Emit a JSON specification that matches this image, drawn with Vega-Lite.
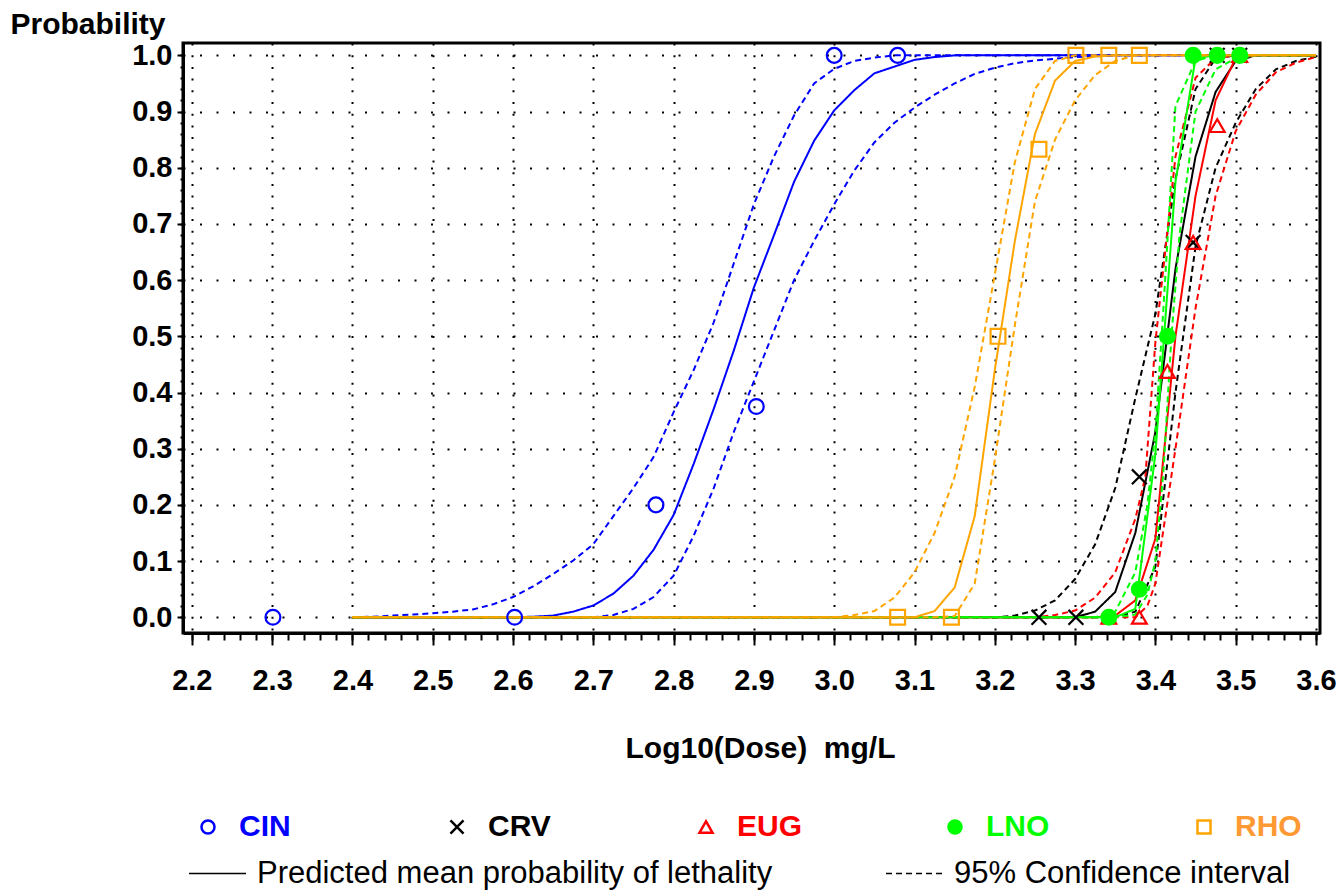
{
  "$schema": "https://vega.github.io/schema/vega-lite/v6.json",
  "width": 1137,
  "height": 590,
  "autosize": "none",
  "padding": {"left": 183, "top": 43, "right": 21, "bottom": 260},
  "background": "white",
  "config": {
    "font": "Liberation Sans",
    "view": {"stroke": "black", "strokeWidth": 3},
    "axis": {"labelColor": "black", "titleColor": "black", "tickColor": "black", "domainColor": "black", "gridColor": "black", "gridOpacity": 1}
  },
  "datasets": {
    "curves": [
      {"s":"CIN","c":"hi","k":"ci","x":2.4,"y":0},{"s":"CIN","c":"hi","k":"ci","x":2.425,"y":0.001},{"s":"CIN","c":"hi","k":"ci","x":2.45,"y":0.003},{"s":"CIN","c":"hi","k":"ci","x":2.475,"y":0.005},{"s":"CIN","c":"hi","k":"ci","x":2.5,"y":0.007},{"s":"CIN","c":"hi","k":"ci","x":2.525,"y":0.01},{"s":"CIN","c":"hi","k":"ci","x":2.55,"y":0.014},{"s":"CIN","c":"hi","k":"ci","x":2.575,"y":0.023},{"s":"CIN","c":"hi","k":"ci","x":2.6,"y":0.036},{"s":"CIN","c":"hi","k":"ci","x":2.625,"y":0.055},{"s":"CIN","c":"hi","k":"ci","x":2.65,"y":0.077},{"s":"CIN","c":"hi","k":"ci","x":2.675,"y":0.101},{"s":"CIN","c":"hi","k":"ci","x":2.7,"y":0.13},{"s":"CIN","c":"hi","k":"ci","x":2.725,"y":0.18},{"s":"CIN","c":"hi","k":"ci","x":2.75,"y":0.23},{"s":"CIN","c":"hi","k":"ci","x":2.775,"y":0.285},{"s":"CIN","c":"hi","k":"ci","x":2.8,"y":0.365},{"s":"CIN","c":"hi","k":"ci","x":2.825,"y":0.44},{"s":"CIN","c":"hi","k":"ci","x":2.85,"y":0.525},{"s":"CIN","c":"hi","k":"ci","x":2.875,"y":0.63},{"s":"CIN","c":"hi","k":"ci","x":2.9,"y":0.735},{"s":"CIN","c":"hi","k":"ci","x":2.925,"y":0.82},{"s":"CIN","c":"hi","k":"ci","x":2.95,"y":0.893},{"s":"CIN","c":"hi","k":"ci","x":2.975,"y":0.95},{"s":"CIN","c":"hi","k":"ci","x":3.0,"y":0.976},{"s":"CIN","c":"hi","k":"ci","x":3.025,"y":0.99},{"s":"CIN","c":"hi","k":"ci","x":3.05,"y":0.996},{"s":"CIN","c":"hi","k":"ci","x":3.075,"y":1},{"s":"CIN","c":"hi","k":"ci","x":3.6,"y":1},
      {"s":"CIN","c":"lo","k":"ci","x":2.4,"y":0},{"s":"CIN","c":"lo","k":"ci","x":2.7,"y":0},{"s":"CIN","c":"lo","k":"ci","x":2.725,"y":0.004},{"s":"CIN","c":"lo","k":"ci","x":2.75,"y":0.015},{"s":"CIN","c":"lo","k":"ci","x":2.775,"y":0.036},{"s":"CIN","c":"lo","k":"ci","x":2.8,"y":0.074},{"s":"CIN","c":"lo","k":"ci","x":2.825,"y":0.145},{"s":"CIN","c":"lo","k":"ci","x":2.85,"y":0.23},{"s":"CIN","c":"lo","k":"ci","x":2.875,"y":0.33},{"s":"CIN","c":"lo","k":"ci","x":2.9,"y":0.42},{"s":"CIN","c":"lo","k":"ci","x":2.925,"y":0.51},{"s":"CIN","c":"lo","k":"ci","x":2.95,"y":0.6},{"s":"CIN","c":"lo","k":"ci","x":2.975,"y":0.67},{"s":"CIN","c":"lo","k":"ci","x":3.0,"y":0.735},{"s":"CIN","c":"lo","k":"ci","x":3.025,"y":0.795},{"s":"CIN","c":"lo","k":"ci","x":3.05,"y":0.845},{"s":"CIN","c":"lo","k":"ci","x":3.075,"y":0.88},{"s":"CIN","c":"lo","k":"ci","x":3.1,"y":0.907},{"s":"CIN","c":"lo","k":"ci","x":3.125,"y":0.93},{"s":"CIN","c":"lo","k":"ci","x":3.15,"y":0.95},{"s":"CIN","c":"lo","k":"ci","x":3.175,"y":0.967},{"s":"CIN","c":"lo","k":"ci","x":3.2,"y":0.978},{"s":"CIN","c":"lo","k":"ci","x":3.225,"y":0.986},{"s":"CIN","c":"lo","k":"ci","x":3.25,"y":0.991},{"s":"CIN","c":"lo","k":"ci","x":3.275,"y":0.994},{"s":"CIN","c":"lo","k":"ci","x":3.3,"y":0.997},{"s":"CIN","c":"lo","k":"ci","x":3.35,"y":1},{"s":"CIN","c":"lo","k":"ci","x":3.6,"y":1},
      {"s":"CIN","c":"m","k":"pred","x":2.4,"y":0},{"s":"CIN","c":"m","k":"pred","x":2.6,"y":0},{"s":"CIN","c":"m","k":"pred","x":2.625,"y":0.001},{"s":"CIN","c":"m","k":"pred","x":2.65,"y":0.003},{"s":"CIN","c":"m","k":"pred","x":2.675,"y":0.01},{"s":"CIN","c":"m","k":"pred","x":2.7,"y":0.021},{"s":"CIN","c":"m","k":"pred","x":2.725,"y":0.042},{"s":"CIN","c":"m","k":"pred","x":2.75,"y":0.074},{"s":"CIN","c":"m","k":"pred","x":2.775,"y":0.12},{"s":"CIN","c":"m","k":"pred","x":2.8,"y":0.182},{"s":"CIN","c":"m","k":"pred","x":2.825,"y":0.273},{"s":"CIN","c":"m","k":"pred","x":2.85,"y":0.371},{"s":"CIN","c":"m","k":"pred","x":2.875,"y":0.475},{"s":"CIN","c":"m","k":"pred","x":2.9,"y":0.587},{"s":"CIN","c":"m","k":"pred","x":2.925,"y":0.68},{"s":"CIN","c":"m","k":"pred","x":2.95,"y":0.775},{"s":"CIN","c":"m","k":"pred","x":2.975,"y":0.848},{"s":"CIN","c":"m","k":"pred","x":3.0,"y":0.902},{"s":"CIN","c":"m","k":"pred","x":3.025,"y":0.938},{"s":"CIN","c":"m","k":"pred","x":3.05,"y":0.968},{"s":"CIN","c":"m","k":"pred","x":3.075,"y":0.98},{"s":"CIN","c":"m","k":"pred","x":3.1,"y":0.992},{"s":"CIN","c":"m","k":"pred","x":3.125,"y":0.997},{"s":"CIN","c":"m","k":"pred","x":3.15,"y":1},{"s":"CIN","c":"m","k":"pred","x":3.6,"y":1},
      {"s":"CRV","c":"hi","k":"ci","x":2.4,"y":0},{"s":"CRV","c":"hi","k":"ci","x":3.2,"y":0},{"s":"CRV","c":"hi","k":"ci","x":3.225,"y":0.003},{"s":"CRV","c":"hi","k":"ci","x":3.25,"y":0.012},{"s":"CRV","c":"hi","k":"ci","x":3.275,"y":0.03},{"s":"CRV","c":"hi","k":"ci","x":3.3,"y":0.068},{"s":"CRV","c":"hi","k":"ci","x":3.325,"y":0.13},{"s":"CRV","c":"hi","k":"ci","x":3.35,"y":0.23},{"s":"CRV","c":"hi","k":"ci","x":3.375,"y":0.39},{"s":"CRV","c":"hi","k":"ci","x":3.4,"y":0.54},{"s":"CRV","c":"hi","k":"ci","x":3.425,"y":0.78},{"s":"CRV","c":"hi","k":"ci","x":3.45,"y":0.94},{"s":"CRV","c":"hi","k":"ci","x":3.475,"y":0.995},{"s":"CRV","c":"hi","k":"ci","x":3.5,"y":1},{"s":"CRV","c":"hi","k":"ci","x":3.6,"y":1},
      {"s":"CRV","c":"lo","k":"ci","x":2.4,"y":0},{"s":"CRV","c":"lo","k":"ci","x":3.35,"y":0},{"s":"CRV","c":"lo","k":"ci","x":3.375,"y":0.01},{"s":"CRV","c":"lo","k":"ci","x":3.4,"y":0.09},{"s":"CRV","c":"lo","k":"ci","x":3.425,"y":0.4},{"s":"CRV","c":"lo","k":"ci","x":3.45,"y":0.66},{"s":"CRV","c":"lo","k":"ci","x":3.475,"y":0.8},{"s":"CRV","c":"lo","k":"ci","x":3.5,"y":0.88},{"s":"CRV","c":"lo","k":"ci","x":3.525,"y":0.94},{"s":"CRV","c":"lo","k":"ci","x":3.55,"y":0.975},{"s":"CRV","c":"lo","k":"ci","x":3.575,"y":0.99},{"s":"CRV","c":"lo","k":"ci","x":3.6,"y":0.998},
      {"s":"CRV","c":"m","k":"pred","x":2.4,"y":0},{"s":"CRV","c":"m","k":"pred","x":3.3,"y":0},{"s":"CRV","c":"m","k":"pred","x":3.325,"y":0.01},{"s":"CRV","c":"m","k":"pred","x":3.35,"y":0.045},{"s":"CRV","c":"m","k":"pred","x":3.375,"y":0.15},{"s":"CRV","c":"m","k":"pred","x":3.4,"y":0.33},{"s":"CRV","c":"m","k":"pred","x":3.425,"y":0.62},{"s":"CRV","c":"m","k":"pred","x":3.45,"y":0.82},{"s":"CRV","c":"m","k":"pred","x":3.475,"y":0.935},{"s":"CRV","c":"m","k":"pred","x":3.5,"y":0.99},{"s":"CRV","c":"m","k":"pred","x":3.525,"y":1},{"s":"CRV","c":"m","k":"pred","x":3.6,"y":1},
      {"s":"EUG","c":"hi","k":"ci","x":2.4,"y":0},{"s":"EUG","c":"hi","k":"ci","x":3.25,"y":0},{"s":"EUG","c":"hi","k":"ci","x":3.275,"y":0.004},{"s":"EUG","c":"hi","k":"ci","x":3.3,"y":0.012},{"s":"EUG","c":"hi","k":"ci","x":3.325,"y":0.035},{"s":"EUG","c":"hi","k":"ci","x":3.35,"y":0.08},{"s":"EUG","c":"hi","k":"ci","x":3.375,"y":0.175},{"s":"EUG","c":"hi","k":"ci","x":3.3875,"y":0.25},{"s":"EUG","c":"hi","k":"ci","x":3.4,"y":0.49},{"s":"EUG","c":"hi","k":"ci","x":3.425,"y":0.82},{"s":"EUG","c":"hi","k":"ci","x":3.45,"y":0.96},{"s":"EUG","c":"hi","k":"ci","x":3.475,"y":0.995},{"s":"EUG","c":"hi","k":"ci","x":3.5,"y":1},{"s":"EUG","c":"hi","k":"ci","x":3.6,"y":1},
      {"s":"EUG","c":"lo","k":"ci","x":2.4,"y":0},{"s":"EUG","c":"lo","k":"ci","x":3.375,"y":0},{"s":"EUG","c":"lo","k":"ci","x":3.39,"y":0.02},{"s":"EUG","c":"lo","k":"ci","x":3.4,"y":0.06},{"s":"EUG","c":"lo","k":"ci","x":3.425,"y":0.3},{"s":"EUG","c":"lo","k":"ci","x":3.45,"y":0.55},{"s":"EUG","c":"lo","k":"ci","x":3.475,"y":0.75},{"s":"EUG","c":"lo","k":"ci","x":3.5,"y":0.865},{"s":"EUG","c":"lo","k":"ci","x":3.525,"y":0.93},{"s":"EUG","c":"lo","k":"ci","x":3.55,"y":0.97},{"s":"EUG","c":"lo","k":"ci","x":3.575,"y":0.987},{"s":"EUG","c":"lo","k":"ci","x":3.6,"y":0.997},
      {"s":"EUG","c":"m","k":"pred","x":2.4,"y":0},{"s":"EUG","c":"m","k":"pred","x":3.325,"y":0},{"s":"EUG","c":"m","k":"pred","x":3.35,"y":0.003},{"s":"EUG","c":"m","k":"pred","x":3.375,"y":0.03},{"s":"EUG","c":"m","k":"pred","x":3.4,"y":0.14},{"s":"EUG","c":"m","k":"pred","x":3.425,"y":0.5},{"s":"EUG","c":"m","k":"pred","x":3.45,"y":0.75},{"s":"EUG","c":"m","k":"pred","x":3.475,"y":0.92},{"s":"EUG","c":"m","k":"pred","x":3.5,"y":0.995},{"s":"EUG","c":"m","k":"pred","x":3.525,"y":1},{"s":"EUG","c":"m","k":"pred","x":3.6,"y":1},
      {"s":"LNO","c":"hi","k":"ci","x":2.4,"y":0},{"s":"LNO","c":"hi","k":"ci","x":3.325,"y":0},{"s":"LNO","c":"hi","k":"ci","x":3.35,"y":0.01},{"s":"LNO","c":"hi","k":"ci","x":3.375,"y":0.08},{"s":"LNO","c":"hi","k":"ci","x":3.39,"y":0.2},{"s":"LNO","c":"hi","k":"ci","x":3.4,"y":0.33},{"s":"LNO","c":"hi","k":"ci","x":3.41,"y":0.55},{"s":"LNO","c":"hi","k":"ci","x":3.425,"y":0.91},{"s":"LNO","c":"hi","k":"ci","x":3.45,"y":0.99},{"s":"LNO","c":"hi","k":"ci","x":3.475,"y":1},{"s":"LNO","c":"hi","k":"ci","x":3.6,"y":1},
      {"s":"LNO","c":"lo","k":"ci","x":2.4,"y":0},{"s":"LNO","c":"lo","k":"ci","x":3.35,"y":0},{"s":"LNO","c":"lo","k":"ci","x":3.375,"y":0.005},{"s":"LNO","c":"lo","k":"ci","x":3.39,"y":0.04},{"s":"LNO","c":"lo","k":"ci","x":3.4,"y":0.1},{"s":"LNO","c":"lo","k":"ci","x":3.41,"y":0.26},{"s":"LNO","c":"lo","k":"ci","x":3.42,"y":0.5},{"s":"LNO","c":"lo","k":"ci","x":3.43,"y":0.68},{"s":"LNO","c":"lo","k":"ci","x":3.45,"y":0.9},{"s":"LNO","c":"lo","k":"ci","x":3.475,"y":0.975},{"s":"LNO","c":"lo","k":"ci","x":3.5,"y":0.995},{"s":"LNO","c":"lo","k":"ci","x":3.525,"y":1},{"s":"LNO","c":"lo","k":"ci","x":3.6,"y":1},
      {"s":"LNO","c":"m","k":"pred","x":2.4,"y":0},{"s":"LNO","c":"m","k":"pred","x":3.35,"y":0},{"s":"LNO","c":"m","k":"pred","x":3.375,"y":0.015},{"s":"LNO","c":"m","k":"pred","x":3.4,"y":0.29},{"s":"LNO","c":"m","k":"pred","x":3.425,"y":0.775},{"s":"LNO","c":"m","k":"pred","x":3.45,"y":0.995},{"s":"LNO","c":"m","k":"pred","x":3.475,"y":1},{"s":"LNO","c":"m","k":"pred","x":3.6,"y":1},
      {"s":"RHO","c":"hi","k":"ci","x":2.4,"y":0},{"s":"RHO","c":"hi","k":"ci","x":3.0,"y":0},{"s":"RHO","c":"hi","k":"ci","x":3.025,"y":0.004},{"s":"RHO","c":"hi","k":"ci","x":3.05,"y":0.011},{"s":"RHO","c":"hi","k":"ci","x":3.075,"y":0.035},{"s":"RHO","c":"hi","k":"ci","x":3.1,"y":0.08},{"s":"RHO","c":"hi","k":"ci","x":3.125,"y":0.15},{"s":"RHO","c":"hi","k":"ci","x":3.15,"y":0.25},{"s":"RHO","c":"hi","k":"ci","x":3.175,"y":0.41},{"s":"RHO","c":"hi","k":"ci","x":3.2,"y":0.61},{"s":"RHO","c":"hi","k":"ci","x":3.225,"y":0.81},{"s":"RHO","c":"hi","k":"ci","x":3.25,"y":0.94},{"s":"RHO","c":"hi","k":"ci","x":3.275,"y":0.99},{"s":"RHO","c":"hi","k":"ci","x":3.3,"y":1},{"s":"RHO","c":"hi","k":"ci","x":3.6,"y":1},
      {"s":"RHO","c":"lo","k":"ci","x":2.4,"y":0},{"s":"RHO","c":"lo","k":"ci","x":3.125,"y":0},{"s":"RHO","c":"lo","k":"ci","x":3.15,"y":0.002},{"s":"RHO","c":"lo","k":"ci","x":3.175,"y":0.06},{"s":"RHO","c":"lo","k":"ci","x":3.2,"y":0.28},{"s":"RHO","c":"lo","k":"ci","x":3.225,"y":0.52},{"s":"RHO","c":"lo","k":"ci","x":3.25,"y":0.74},{"s":"RHO","c":"lo","k":"ci","x":3.275,"y":0.85},{"s":"RHO","c":"lo","k":"ci","x":3.3,"y":0.92},{"s":"RHO","c":"lo","k":"ci","x":3.325,"y":0.965},{"s":"RHO","c":"lo","k":"ci","x":3.35,"y":0.99},{"s":"RHO","c":"lo","k":"ci","x":3.375,"y":1},{"s":"RHO","c":"lo","k":"ci","x":3.6,"y":1},
      {"s":"RHO","c":"m","k":"pred","x":2.4,"y":0},{"s":"RHO","c":"m","k":"pred","x":3.1,"y":0},{"s":"RHO","c":"m","k":"pred","x":3.125,"y":0.011},{"s":"RHO","c":"m","k":"pred","x":3.15,"y":0.053},{"s":"RHO","c":"m","k":"pred","x":3.175,"y":0.18},{"s":"RHO","c":"m","k":"pred","x":3.2,"y":0.44},{"s":"RHO","c":"m","k":"pred","x":3.225,"y":0.67},{"s":"RHO","c":"m","k":"pred","x":3.25,"y":0.86},{"s":"RHO","c":"m","k":"pred","x":3.275,"y":0.955},{"s":"RHO","c":"m","k":"pred","x":3.3,"y":0.99},{"s":"RHO","c":"m","k":"pred","x":3.325,"y":0.998},{"s":"RHO","c":"m","k":"pred","x":3.35,"y":1},{"s":"RHO","c":"m","k":"pred","x":3.6,"y":1}
    ],
    "obs": [
      {"s":"CIN","x":2.301,"y":0},{"s":"CIN","x":2.602,"y":0},{"s":"CIN","x":2.778,"y":0.2},{"s":"CIN","x":2.903,"y":0.375},{"s":"CIN","x":3.0,"y":1},{"s":"CIN","x":3.079,"y":1},
      {"s":"CRV","x":3.255,"y":0},{"s":"CRV","x":3.301,"y":0},{"s":"CRV","x":3.38,"y":0.25},{"s":"CRV","x":3.447,"y":0.667},{"s":"CRV","x":3.477,"y":1},{"s":"CRV","x":3.505,"y":1},
      {"s":"EUG","x":3.342,"y":0},{"s":"EUG","x":3.38,"y":0},{"s":"EUG","x":3.415,"y":0.4375},{"s":"EUG","x":3.447,"y":0.667},{"s":"EUG","x":3.477,"y":0.875},{"s":"EUG","x":3.505,"y":1},
      {"s":"LNO","x":3.342,"y":0},{"s":"LNO","x":3.38,"y":0.05},{"s":"LNO","x":3.415,"y":0.5},{"s":"LNO","x":3.447,"y":1},{"s":"LNO","x":3.477,"y":1},{"s":"LNO","x":3.505,"y":1},
      {"s":"RHO","x":3.079,"y":0},{"s":"RHO","x":3.146,"y":0},{"s":"RHO","x":3.204,"y":0.5},{"s":"RHO","x":3.255,"y":0.833},{"s":"RHO","x":3.301,"y":1},{"s":"RHO","x":3.342,"y":1},{"s":"RHO","x":3.38,"y":1}
    ]
  },
  "layer": [
    {
      "data": {"name": "curves"},
      "mark": {"type": "line", "strokeWidth": 2},
      "encoding": {
        "x": {"field": "x", "type": "quantitative", "scale": {"domain": [2.189, 3.605], "nice": false, "zero": false},
          "axis": {"orient": "bottom", "values": [2.2,2.22,2.24,2.26,2.28,2.3,2.32,2.34,2.36,2.38,2.4,2.42,2.44,2.46,2.48,2.5,2.52,2.54,2.56,2.58,2.6,2.62,2.64,2.66,2.68,2.7,2.72,2.74,2.76,2.78,2.8,2.82,2.84,2.86,2.88,2.9,2.92,2.94,2.96,2.98,3,3.02,3.04,3.06,3.08,3.1,3.12,3.14,3.16,3.18,3.2,3.22,3.24,3.26,3.28,3.3,3.32,3.34,3.36,3.38,3.4,3.42,3.44,3.46,3.48,3.5,3.52,3.54,3.56,3.58,3.6],
            "labels": false, "title": null, "grid": false, "domain": false, "tickSize": 7, "tickWidth": 2, "tickColor": "black"}},
        "y": {"field": "y", "type": "quantitative", "scale": {"domain": [-0.028, 1.022], "nice": false, "zero": false},
          "axis": {"orient": "left", "values": [0,0.02,0.04,0.06,0.08,0.1,0.12,0.14,0.16,0.18,0.2,0.22,0.24,0.26,0.28,0.3,0.32,0.34,0.36,0.38,0.4,0.42,0.44,0.46,0.48,0.5,0.52,0.54,0.56,0.58,0.6,0.62,0.64,0.66,0.68,0.7,0.72,0.74,0.76,0.78,0.8,0.82,0.84,0.86,0.88,0.9,0.92,0.94,0.96,0.98,1],
            "labels": false, "title": null, "grid": false, "domain": false, "tickSize": 3, "tickWidth": 2, "tickColor": "black"}},
        "stroke": {"field": "s", "type": "nominal", "scale": {"domain": ["RHO","LNO","EUG","CRV","CIN"], "range": ["#FFA500","#00FF00","#FF0000","#000000","#0000FF"]}, "legend": null},
        "strokeDash": {"field": "k", "type": "nominal",
          "scale": {"domain": ["pred","ci"], "range": [[1,0],[6,4]]},
          "legend": {"orient": "none", "legendX": 5, "legendY": 801, "direction": "horizontal", "columns": 2, "gridAlign": "none", "columnPadding": 110, "title": null, "padding": 0,
            "symbolType": "stroke", "symbolSize": 3249, "symbolStrokeWidth": 1.5, "symbolStrokeColor": "black",
            "labelFont": "Liberation Sans", "labelFontSize": 31, "labelFontWeight": "normal", "labelColor": "black", "labelOffset": 10, "labelLimit": 900,
            "labelExpr": "datum.label == 'pred' ? 'Predicted mean probability of lethality' : '95% Confidence interval'"}},
        "detail": {"field": "c", "type": "nominal"}
      }
    },
    {
      "data": {"name": "obs"},
      "mark": {"type": "point", "filled": false, "strokeWidth": 2.2, "size": 220, "opacity": 1},
      "encoding": {
        "x": {"field": "x", "type": "quantitative", "scale": {"domain": [2.189, 3.605], "nice": false, "zero": false},
          "axis": {"orient": "bottom", "values": [2.2,2.3,2.4,2.5,2.6,2.7,2.8,2.9,3.0,3.1,3.2,3.3,3.4,3.5,3.6], "format": ".1f",
            "title": "Log10(Dose)\u00a0 mg/L", "titleFont": "Liberation Sans", "titleFontSize": 30, "titleFontWeight": "bold", "titleX": 577, "titleY": 124, "titleBaseline": "alphabetic",
            "grid": true, "gridWidth": 2, "gridDash": [2, 9.7], "domain": true, "domainWidth": 3, "tickSize": 12, "tickWidth": 2,
            "labelFont": "Liberation Sans", "labelFontSize": 29, "labelFontWeight": "bold", "labelPadding": 44, "labelBaseline": "alphabetic", "labelFlush": false, "labelOverlap": false}},
        "y": {"field": "y", "type": "quantitative", "scale": {"domain": [-0.028, 1.022], "nice": false, "zero": false},
          "axis": {"orient": "left", "values": [0,0.1,0.2,0.3,0.4,0.5,0.6,0.7,0.8,0.9,1.0], "format": ".1f",
            "title": "Probability", "titleFont": "Liberation Sans", "titleFontSize": 30, "titleFontWeight": "bold", "titleAngle": 0, "titleAlign": "left", "titleBaseline": "alphabetic", "titleX": -173, "titleY": -10,
            "grid": true, "gridWidth": 2, "gridDash": [2, 14.5], "domain": true, "domainWidth": 3, "tickSize": 6, "tickWidth": 2,
            "labelFont": "Liberation Sans", "labelFontSize": 29, "labelFontWeight": "bold", "labelPadding": 5, "labelBaseline": "middle", "labelFlush": false, "labelOverlap": false}},
        "color": {"field": "s", "type": "nominal", "scale": {"domain": ["CIN","CRV","EUG","LNO","RHO"], "range": ["#0000FF","#000000","#FF0000","#00FF00","#FFA500"]},
          "legend": {"orient": "none", "legendX": 10, "legendY": 769, "direction": "horizontal", "columns": 5, "gridAlign": "all", "columnPadding": 136, "title": null, "padding": 0,
            "symbolSize": 170, "symbolStrokeWidth": 2.5,
            "labelFont": "Liberation Sans", "labelFontSize": 30, "labelFontWeight": "bold", "labelOffset": 16, "labelLimit": 300,
            "labelColor": {"expr": "datum.value === 'CIN' ? '#0000FF' : datum.value === 'EUG' ? '#FF0000' : datum.value === 'LNO' ? '#00FF00' : datum.value === 'RHO' ? '#FF9933' : '#000000'"}}},
        "shape": {"field": "s", "type": "nominal", "scale": {"domain": ["CIN","CRV","EUG","LNO","RHO"], "range": ["circle","M-1,-1L1,1M-1,1L1,-1","triangle-up","circle","square"]},
          "legend": {"orient": "none", "legendX": 10, "legendY": 769, "direction": "horizontal", "columns": 5, "gridAlign": "all", "columnPadding": 136, "title": null, "padding": 0,
            "symbolSize": 170, "symbolStrokeWidth": 2.5,
            "labelFont": "Liberation Sans", "labelFontSize": 30, "labelFontWeight": "bold", "labelOffset": 16, "labelLimit": 300,
            "labelColor": {"expr": "datum.value === 'CIN' ? '#0000FF' : datum.value === 'EUG' ? '#FF0000' : datum.value === 'LNO' ? '#00FF00' : datum.value === 'RHO' ? '#FF9933' : '#000000'"}}},
        "fill": {"field": "s", "type": "nominal", "scale": {"domain": ["CIN","CRV","EUG","LNO","RHO"], "range": ["transparent","transparent","transparent","#00FF00","transparent"]},
          "legend": {"orient": "none", "legendX": 10, "legendY": 769, "direction": "horizontal", "columns": 5, "gridAlign": "all", "columnPadding": 136, "title": null, "padding": 0,
            "symbolSize": 170, "symbolStrokeWidth": 2.5,
            "labelFont": "Liberation Sans", "labelFontSize": 30, "labelFontWeight": "bold", "labelOffset": 16, "labelLimit": 300,
            "labelColor": {"expr": "datum.value === 'CIN' ? '#0000FF' : datum.value === 'EUG' ? '#FF0000' : datum.value === 'LNO' ? '#00FF00' : datum.value === 'RHO' ? '#FF9933' : '#000000'"}}}
      }
    }
  ],
  "resolve": {"axis": {"x": "independent", "y": "independent"}}
}
